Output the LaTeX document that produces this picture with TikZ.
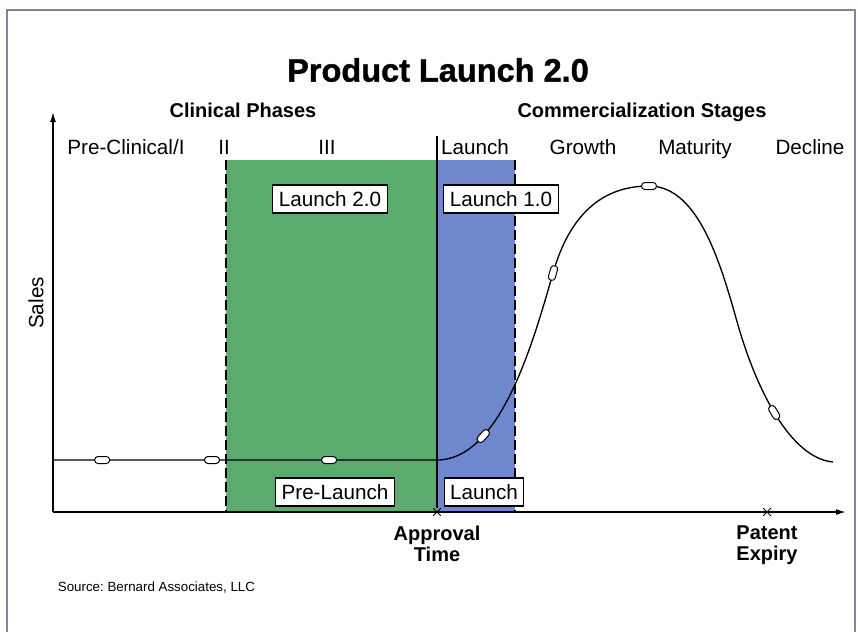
\documentclass[tikz,border=0pt]{standalone}
\usepackage{fontspec}
\setmainfont{Liberation Sans}
\newfontfamily\headfont{Liberation Sans}[FakeBold=1.2]
\usetikzlibrary{arrows.meta, positioning, shapes.misc}

\definecolor{framegray}{RGB}{122,134,160}
\definecolor{prelaunchgreen}{RGB}{92,171,110}
\definecolor{launchblue}{RGB}{110,135,205}

\begin{document}
\begin{tikzpicture}[>={Latex[length=6pt,width=3.6pt]}, x=0.6pt, y=-0.6pt,
	phase/.style={anchor=base, font=\fontsize{12.4}{14}\selectfont},
	heading/.style={font=\bfseries\fontsize{12}{12.6}\selectfont, align=center},
	labelbox/.style={draw, fill=white, line width=0.7pt, inner xsep=3.6pt, inner ysep=0pt, minimum height=16.8pt, font=\fontsize{12.4}{14}\selectfont},
	tag/.style={draw, fill=white, rounded corners=2pt, minimum width=9pt, minimum height=4.2pt, inner sep=0pt, line width=0.6pt},
	xmark/.style={cross out, draw, minimum size=4pt, inner sep=0pt, line width=0.6pt},
	stageline/.style={line width=0.8pt, dash pattern=on 6pt off 2.4pt}]
	\useasboundingbox (0,0) rectangle (858,632);
	\draw[framegray, line width=1pt] (7,632) -- (7,10) -- (855,10) -- (855,632);

	% shaded launch windows
	\fill[prelaunchgreen] (226,160) rectangle (437,512);
	\fill[launchblue] (437,160) rectangle (515,512);
	\draw[stageline] (226,160) -- (226,512);
	\draw[stageline] (515,160) -- (515,512);

	% axes
	\coordinate (origin) at (53,512);
	\coordinate (ytip) at (53,112);
	\coordinate (xtip) at (846,512);
	\coordinate (approvaltop) at (437,136);
	\node[xmark] (approval) at (437,512) {};
	\node[xmark] (expiry) at (767,512) {};
	\draw[line width=0.9pt, ->] (origin) -- (ytip);
	\draw[line width=0.9pt, ->] (origin) -- (xtip);
	\draw[line width=1.3pt] (approvaltop) -- (approval);

	% sales curve
	\draw[line width=0.8pt] (53,460) -- node[tag, pos=0.128] (t1) {} node[tag, pos=0.414] (t2) {} node[tag, pos=0.719] (t3) {} (437,460)
		.. controls (500,460) and (533,343) .. node[tag, pos=0.28, sloped] (t4) {} node[tag, pos=1, sloped] (t5) {} (553,273)
		.. controls (567,224) and (595,186) .. node[tag, pos=1, sloped] (t6) {} (649,186)
		.. controls (700,186) and (722,269) .. (738,325)
		.. controls (756,388) and (790,458) .. node[tag, pos=0.48, sloped] (t7) {} (833,462);

	% titles
	\node[font=\headfont\bfseries\fontsize{19.5}{22}\selectfont] (title) at (438,70) {Product Launch 2.0};
	\node[heading, anchor=base] (clinical) at (243,117) {Clinical Phases};
	\node[heading, anchor=base] (commercial) at (642,117) {Commercialization Stages};

	\node[phase] (preclinical) at (126,154) {Pre-Clinical/I};
	\node[phase] (phasetwo) at (224,154) {II};
	\node[phase] (phasethree) at (327,154) {III};
	\node[phase] (launchstage) at (475,154) {Launch};
	\node[phase] (growth) at (583,154) {Growth};
	\node[phase] (maturity) at (695,154) {Maturity};
	\node[phase] (decline) at (810,154) {Decline};

	\node[labelbox] (launchtwo) at (330,199) {Launch 2.0};
	\node[labelbox] (launchone) at (501,199) {Launch 1.0};
	\node[labelbox] (prelaunch) at (335,492) {Pre-Launch};
	\node[labelbox] (launch) at (484,492) {Launch};

	\node[font=\fontsize{12.4}{14}\selectfont, rotate=90] (sales) at (36,303) {Sales};
	\node[heading, below=2.5pt of approval] (approvaltime) {Approval\\Time};
	\node[heading, below=2.5pt of expiry] (patentexpiry) {Patent\\Expiry};

	\node[anchor=west, font=\fontsize{8}{9}\selectfont] (source) at (52,588) {\frenchspacing Source: Bernard Associates, LLC};
\end{tikzpicture}
\end{document}
